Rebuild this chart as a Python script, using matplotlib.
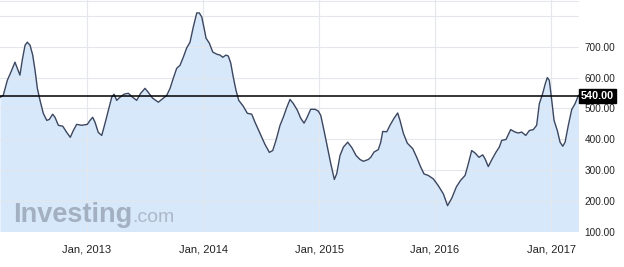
import matplotlib
matplotlib.use("Agg")
import matplotlib.pyplot as plt
import numpy as np

# time in decimal years, price values
years = [2012.250, 2012.278, 2012.313, 2012.351, 2012.379, 2012.399, 2012.422, 2012.442, 2012.466, 2012.485,
         2012.509, 2012.532, 2012.552, 2012.572, 2012.595, 2012.623, 2012.653, 2012.675, 2012.704, 2012.724,
         2012.753, 2012.791, 2012.825, 2012.856, 2012.882, 2012.911, 2012.954, 2013.003, 2013.026, 2013.049,
         2013.069, 2013.097, 2013.127, 2013.155, 2013.184, 2013.213, 2013.233, 2013.256, 2013.284, 2013.319,
         2013.356, 2013.394, 2013.428, 2013.463, 2013.500, 2013.528, 2013.566, 2013.615, 2013.658, 2013.687,
         2013.716, 2013.744, 2013.773, 2013.802, 2013.830, 2013.859, 2013.888, 2013.916, 2013.946, 2013.968,
         2013.989, 2014.009, 2014.026, 2014.054, 2014.084, 2014.118, 2014.147, 2014.170, 2014.198, 2014.218,
         2014.239, 2014.261, 2014.284, 2014.308, 2014.347, 2014.382, 2014.420, 2014.448, 2014.491, 2014.534,
         2014.572, 2014.601, 2014.629, 2014.664, 2014.692, 2014.722, 2014.750, 2014.778, 2014.813, 2014.842,
         2014.871, 2014.894, 2014.928, 2014.966, 2014.994, 2015.015, 2015.043, 2015.072, 2015.101, 2015.132,
         2015.153, 2015.181, 2015.210, 2015.247, 2015.282, 2015.319, 2015.353, 2015.382, 2015.425, 2015.446,
         2015.474, 2015.511, 2015.532, 2015.549, 2015.584, 2015.612, 2015.647, 2015.678, 2015.698, 2015.727,
         2015.761, 2015.808, 2015.842, 2015.877, 2015.905, 2015.942, 2015.985, 2016.028, 2016.072, 2016.108,
         2016.144, 2016.184, 2016.220, 2016.259, 2016.287, 2016.316, 2016.345, 2016.379, 2016.411, 2016.431,
         2016.459, 2016.489, 2016.526, 2016.554, 2016.575, 2016.612, 2016.652, 2016.690, 2016.718, 2016.747,
         2016.782, 2016.813, 2016.847, 2016.876, 2016.899, 2016.928, 2016.951, 2016.968, 2016.985, 2017.006,
         2017.026, 2017.054, 2017.078, 2017.101, 2017.121, 2017.149, 2017.178, 2017.207, 2017.236]
values = [536, 542, 591, 624, 650, 630, 608, 657, 705, 715,
          705, 673, 624, 565, 526, 484, 461, 464, 481, 471,
          445, 442, 422, 406, 428, 448, 445, 448, 461, 471,
          455, 422, 412, 451, 494, 536, 546, 526, 536, 546,
          549, 536, 526, 549, 565, 552, 533, 520, 533, 542,
          565, 598, 630, 640, 666, 696, 715, 764, 810, 810,
          797, 761, 728, 712, 683, 676, 673, 666, 673, 670,
          647, 601, 559, 526, 507, 484, 481, 455, 419, 383,
          357, 363, 396, 445, 471, 503, 529, 516, 494, 468,
          452, 468, 497, 497, 491, 477, 428, 374, 321, 269,
          288, 347, 374, 390, 373, 347, 334, 328, 334, 341,
          358, 366, 390, 425, 424, 445, 468, 485, 461, 419,
          387, 369, 341, 309, 287, 282, 271, 249, 222, 184,
          208, 245, 266, 282, 320, 363, 355, 341, 349, 336,
          311, 333, 358, 374, 396, 399, 431, 423, 420, 423,
          412, 428, 431, 445, 515, 548, 581, 600, 591, 526,
          461, 428, 390, 377, 390, 445, 496, 515, 542]

last_price = 540.0
year_ticks = [2013, 2014, 2015, 2016, 2017]
year_labels = ["Jan, 2013", "Jan, 2014", "Jan, 2015", "Jan, 2016", "Jan, 2017"]
y_ticks = [100, 200, 300, 400, 500, 600, 700, 800]
y_labels = ["100.00", "200.00", "300.00", "400.00", "500.00", "600.00", "700.00", ""]

plt.rcParams['font.family'] = ['Liberation Sans', 'DejaVu Sans']

fig = plt.figure(figsize=(6.24, 2.67), dpi=100)
ax = fig.add_axes([0.0, 1 - 231.5 / 267, 579 / 624, 231.5 / 267])

ymin, ymax = 100, 852
ax.fill_between(years, values, ymin, color="#d7e8fb", zorder=1, linewidth=0)
ax.plot(years, values, color="#3b4660", linewidth=1.0, zorder=3)
ax.axhline(last_price, color="black", linewidth=1.1, zorder=4)

ax.set_xlim(2012.25, 2017.241)
ax.set_ylim(ymin, ymax)

ax.set_xticks(year_ticks)
ax.set_xticklabels(year_labels, fontsize=8, color="#222222")
ax.set_yticks(y_ticks)
ax.set_yticklabels(y_labels, fontsize=7.2, color="#222222")
ax.yaxis.tick_right()
ax.tick_params(axis="y", length=0, pad=4)
ax.tick_params(axis="x", length=0, pad=9)
ax.grid(True, color="#e4e7ec", linewidth=0.8, zorder=2)
ax.set_axisbelow(False)
for gl in ax.get_xgridlines() + ax.get_ygridlines():
    gl.set_zorder(2)
for s in ax.spines.values():
    s.set_visible(False)
ax.axhline(ymax - 4, color="#e4e7ec", linewidth=0.8, zorder=2)

# last price tag
ax.text(1.003, last_price, "540.00", transform=ax.get_yaxis_transform(),
        fontsize=7.8, color="white", fontweight="bold", va="center", ha="left",
        bbox=dict(boxstyle="square,pad=0.18", facecolor="black", edgecolor="black"),
        zorder=10, clip_on=False)

# watermark
fig.text(13 / 624, 1 - 221.5 / 267, "Investing", fontsize=19.5, fontweight="bold",
         color="#9aa6b8", alpha=0.85, ha="left", va="baseline")
fig.text(132 / 624, 1 - 221.5 / 267, ".com", fontsize=14, color="#a6b0c0",
         alpha=0.85, ha="left", va="baseline")

fig.savefig("out.png", dpi=100)
